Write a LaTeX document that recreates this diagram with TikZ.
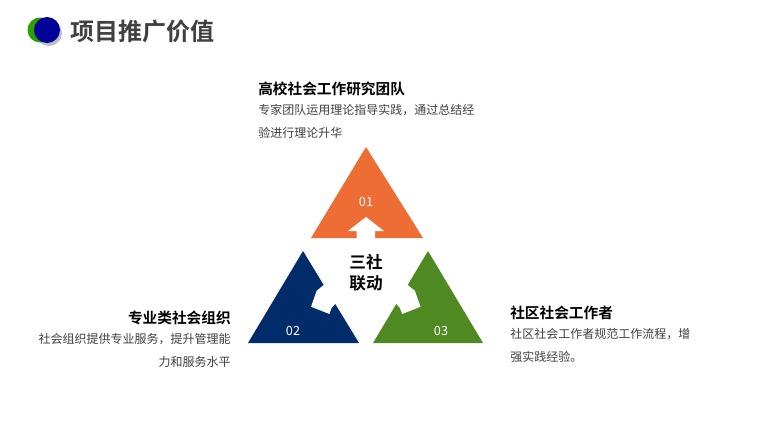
\documentclass[tikz,border=0pt]{standalone}
\usepackage{fontspec}
\setmainfont{Noto Sans CJK SC}
\newfontfamily\cjkb{Noto Sans CJK SC Bold}
\definecolor{orng}{HTML}{ED6D35}
\definecolor{navy}{HTML}{002D6A}
\definecolor{grn}{HTML}{4E8A21}
\definecolor{txt}{HTML}{404040}
\begin{document}
\begin{tikzpicture}[x=0.75pt,y=-0.75pt,
  head/.style={font=\cjkb\fontsize{11}{13}\selectfont,text=black,inner sep=0},
  body/.style={font=\fontsize{9}{17}\selectfont,text=txt,inner sep=0},
  num/.style={font=\fontsize{9.5}{11}\selectfont,text=white,inner sep=0}]
\useasboundingbox[fill=white] (0,0) rectangle (780,437);
% title icon
\fill[black!25] (49,33) circle (13);
\fill[green!55!black!80!lime] (40,30) circle (12.5);
\fill[blue!60!black] (47,30) circle (13);
\node[anchor=west,inner sep=0,font=\cjkb\fontsize{18}{20}\selectfont,text=txt] (title) at (70,31) {项目推广价值};
% triangles
\fill[orng] (366,147) -- (311,238) -- (423,238) -- cycle;
\fill[white] (366,217) -- (348,231) -- (356.5,231) -- (356.5,240) -- (375,240) -- (375,231) -- (384,231) -- cycle;
\fill[navy] (303,251) -- (248,343) -- (359,343) -- cycle;
\fill[white] (325,284) -- (316.7,290.7) -- (311,306.7) -- (329.3,314) -- (331.7,307.7) -- (337,302) -- cycle;
\fill[grn] (428,251) -- (373,343) -- (483,343) -- cycle;
\fill[white] (406.5,284) -- (414.8,290.7) -- (420.5,306.7) -- (402.2,314) -- (399.8,307.7) -- (394.5,302) -- cycle;
\node[num] (n1) at (366,202) {01};
\node[num] (n2) at (293,331) {02};
\node[num] (n3) at (441,331) {03};
\node[inner sep=0,align=center,font=\cjkb\fontsize{12.5}{16}\selectfont] (c) at (366,273) {三社\\联动};
% texts
\node[head,anchor=west] (h1) at (258,89) {高校社会工作研究团队};
\node[body,anchor=north west,align=left] (b1) at (258,104) {专家团队运用理论指导实践，通过总结经\\验进行理论升华};
\node[head,anchor=east] (h2) at (231,318) {专业类社会组织};
\node[body,anchor=north east,align=right] (b2) at (231,333) {社会组织提供专业服务，提升管理能\\力和服务水平};
\node[head,anchor=west] (h3) at (510,313) {社区社会工作者};
\node[body,anchor=north west,align=left] (b3) at (510,328) {社区社会工作者规范工作流程，增\\强实践经验。};
\end{tikzpicture}
\end{document}
